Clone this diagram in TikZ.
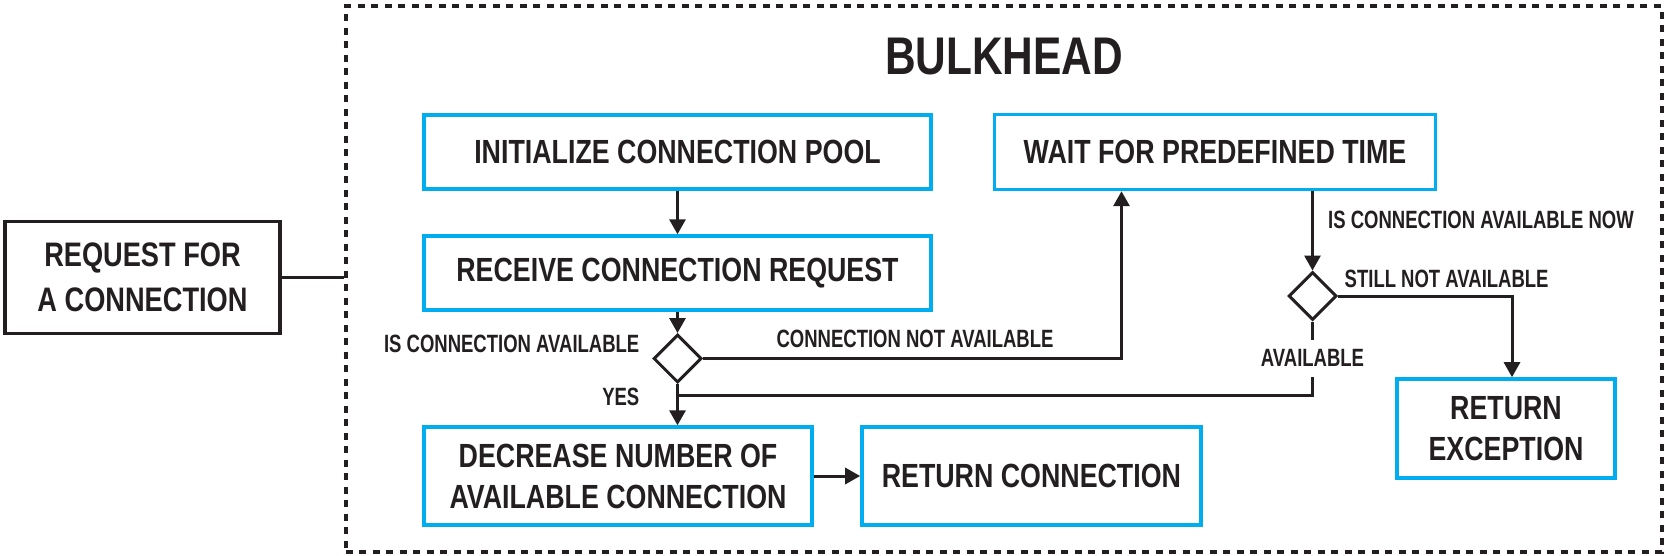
\documentclass[tikz,border=0pt]{standalone}
\usepackage{fontspec}
\usepackage{xcolor}
\usetikzlibrary{arrows.meta,shapes.geometric}
\newfontfamily\boxfont{Liberation Sans}[FakeStretch=0.80]
\newfontfamily\lblfont{Liberation Sans}[FakeStretch=0.74]
\definecolor{ink}{HTML}{231F20}
\definecolor{pool}{HTML}{00AEEF}
\tikzset{
	stepbox/.style={draw=pool, line width=3.4pt, inner sep=0pt, align=center, text=ink,
		font=\boxfont\bfseries\fontsize{33.5}{41}\selectfont},
	outerbox/.style={stepbox, draw=ink, font=\boxfont\bfseries\fontsize{34}{45}\selectfont},
	decide/.style={diamond, aspect=1, draw=ink, line width=3pt, inner sep=0pt,
		minimum width=48pt, minimum height=48pt},
	lbl/.style={text=ink, inner sep=0pt, font=\lblfont\bfseries\fontsize{25}{30}\selectfont},
	flow/.style={draw=ink, line width=3pt, -{Triangle[length=15pt,width=16pt]}},
	link/.style={draw=ink, line width=3pt},
	bulkbox/.style={draw=ink, line width=3.4pt, dash pattern=on 7pt off 6.5pt}
}

\begin{document}
\begin{tikzpicture}[x=1pt, y=-1pt]
		\useasboundingbox (0,0) rectangle (1665,555);
		\node[bulkbox, minimum width=1316pt, minimum height=546pt] (bulk) at (1003.9,279) {};
		\node[text=ink, inner sep=0pt, font=\boxfont\bfseries\fontsize{53}{60}\selectfont] (bulkttl) at (1004,56.4) {BULKHEAD};
		\node[outerbox, minimum width=275pt, minimum height=112pt] (req) at (142.5,277.5) {REQUEST FOR\\A CONNECTION};
		\node[stepbox, minimum width=507pt, minimum height=74pt] (init) at (677.5,152) {INITIALIZE CONNECTION POOL};
		\node[stepbox, minimum width=507pt, minimum height=74pt] (recv) at (677.5,273) {RECEIVE CONNECTION REQUEST};
		\node[stepbox, minimum width=441pt, minimum height=75pt] (wait) at (1215,152) {WAIT FOR PREDEFINED TIME};
		\node[stepbox, minimum width=388pt, minimum height=98pt] (dec) at (618,476) {DECREASE NUMBER OF\\AVAILABLE CONNECTION};
		\node[stepbox, minimum width=339pt, minimum height=98pt] (retconn) at (1031.4,476) {RETURN CONNECTION};
		\node[stepbox, minimum width=218pt, minimum height=99pt] (retexc) at (1506,428.4) {RETURN\\EXCEPTION};
		\node[decide] (dia1) at (677.5,358.5) {};
		\node[decide] (dia2) at (1312.5,296) {};
		\coordinate (turn) at (1312.5,395);
		\node[lbl, anchor=base east] (isavl) at (639.5,352.3) {IS CONNECTION AVAILABLE};
		\node[lbl, anchor=base east] (yes) at (639.5,405) {YES};
		\node[lbl, anchor=base] (notavl) at (915,347.3) {CONNECTION NOT AVAILABLE};
		\node[lbl, anchor=base west] (isavlnow) at (1328,228) {IS CONNECTION AVAILABLE NOW};
		\node[lbl, anchor=base west] (still) at (1344.5,287) {STILL NOT AVAILABLE};
		\draw[link] (req.east) -- (req.east -| bulk.west);
		\draw[flow] (init) -- (recv);
		\draw[flow] (recv) -- (dia1);
		\draw[flow] (dia1.south) -- (dia1.south |- dec.north);
		\draw[flow] (dia1.east) -| ([xshift=-93.5pt]wait.south);
		\draw[flow] (dia2.north |- wait.south) -- (dia2.north);
		\draw[flow] (dia2.east) -| ([xshift=6pt]retexc.north);
		\draw[link] (dia2.south) -- node[lbl, fill=white, inner xsep=3pt, inner ysep=10pt] (avl) {AVAILABLE} (turn) -- (dia1.south |- turn);
		\draw[flow] (dec) -- (retconn);
	\end{tikzpicture}
\end{document}
